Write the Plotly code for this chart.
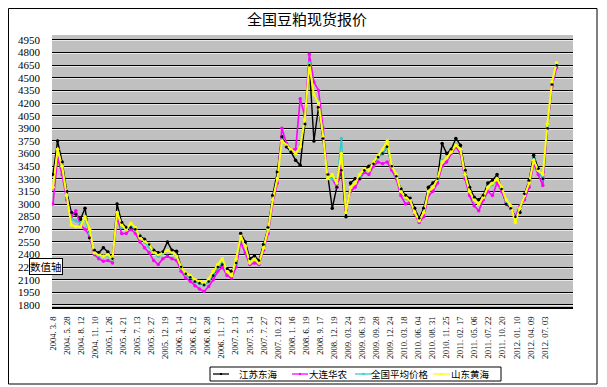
import plotly.graph_objects as go

# ---------------- data ----------------
x_labels = [
    "2004. 3. 8", "2004. 5. 28", "2004. 8. 12", "2004. 11. 10", "2005. 1. 26", "2005. 4. 21",
    "2005. 7. 13", "2005. 9. 27", "2005. 12. 19", "2006. 3. 14", "2006. 6. 12", "2006. 8. 28",
    "2006. 11. 17", "2007. 2. 13", "2007. 5. 14", "2007. 7. 27", "2007. 10. 23", "2008. 1. 16",
    "2008. 6. 19", "2008. 9. 17", "2008. 12. 19", "2009. 03. 24", "2009. 06. 19", "2009. 09. 28",
    "2009. 12. 24", "2010. 03. 18", "2010. 06. 04", "2010. 08. 31", "2010. 11. 25", "2011. 02. 17",
    "2011. 05. 06", "2011. 07. 22", "2011. 10. 20", "2012. 01. 10", "2012. 04. 09", "2012. 07. 03",
]

jiangsu = [3350, 3750, 3500, 3150, 2900, 2880, 2820, 2950, 2600, 2450,
           2420, 2480, 2430, 2350, 3000, 2780, 2720, 2720, 2700, 2620,
           2580, 2520, 2450, 2420, 2430, 2550, 2450, 2440, 2250, 2170,
           2130, 2080, 2060, 2040, 2080, 2150, 2250, 2280, 2230, 2200,
           2300, 2650, 2550, 2350, 2380, 2330, 2520, 2720, 3100, 3380,
           3800, 3680, 3620, 3520, 3460, 3950, 4650, 3750, 4150, 3780,
           3350, 2950, 3200, 3400, 2850, 3250, 3300, 3300, 3400, 3450,
           3480, 3560, 3600, 3680, 3450, 3330, 3180, 3100, 3070, 2950,
           2830, 2950, 3200, 3250, 3300, 3720, 3600, 3650, 3780, 3700,
           3400, 3200, 3080, 3050, 3100, 3250, 3280, 3350, 3180, 3000,
           2950, 2850, 2900, 3120, 3280, 3580, 3420, 3300, 3900, 4420,
           4650]

dalian = [3000, 3550, 3350, 3050, 2850, 2920, 2750, 2700, 2620, 2400,
          2350, 2320, 2330, 2300, 2850, 2650, 2650, 2700, 2650, 2550,
          2480, 2420, 2330, 2280, 2350, 2380, 2350, 2330, 2200, 2120,
          2080, 2030, 1990, 1960, 2020, 2100, 2200, 2250, 2150, 2120,
          2250, 2550, 2420, 2280, 2300, 2280, 2450, 2650, 3000, 3250,
          3900, 3720, 3650, 3650, 4250, 4050, 4780, 4450, 4350, 3900,
          3350, 3300, 3200, 3450, 2950, 3150, 3200, 3300, 3380, 3350,
          3450, 3500, 3480, 3500, 3400, 3300, 3100, 3000, 3020, 2880,
          2780, 2850, 3100, 3150, 3250, 3450, 3500, 3600, 3680, 3600,
          3300, 3100, 2980, 2920, 3050, 3150, 3100, 3250, 3150, 3020,
          2950, 2850, 2980, 3050, 3200, 3480, 3350, 3220, 3900, 4400,
          4620]

national = [3200, 3650, 3450, 3100, 2820, 2800, 2770, 2820, 2650, 2420,
            2390, 2380, 2390, 2340, 2900, 2720, 2700, 2740, 2700, 2600,
            2550, 2490, 2420, 2380, 2410, 2450, 2420, 2370, 2240, 2160,
            2130, 2080, 2060, 2040, 2080, 2160, 2250, 2300, 2200, 2160,
            2300, 2600, 2500, 2310, 2350, 2300, 2480, 2690, 3050, 3300,
            3760, 3700, 3640, 3600, 3700, 3990, 4680, 4300, 4220, 3820,
            3320, 3300, 3250, 3780, 2900, 3200, 3250, 3330, 3410, 3400,
            3490, 3560, 3600, 3680, 3440, 3330, 3150, 3070, 3050, 2910,
            2800, 2900, 3150, 3200, 3290, 3520, 3550, 3620, 3710, 3650,
            3350, 3150, 3040, 3000, 3080, 3200, 3230, 3300, 3190, 3030,
            2960, 2820, 2950, 3100, 3250, 3530, 3400, 3300, 3920, 4430,
            4660]

shandong = [3200, 3650, 3450, 3100, 2750, 2730, 2730, 2850, 2700, 2420,
            2400, 2380, 2400, 2350, 2900, 2750, 2700, 2770, 2720, 2600,
            2560, 2520, 2430, 2400, 2420, 2450, 2430, 2380, 2250, 2180,
            2150, 2100, 2080, 2060, 2110, 2200, 2280, 2350, 2200, 2150,
            2350, 2620, 2500, 2300, 2350, 2300, 2480, 2700, 3050, 3300,
            3750, 3700, 3650, 3600, 3680, 4000, 4650, 4300, 4200, 3800,
            3300, 3350, 3250, 3600, 2900, 3200, 3250, 3350, 3420, 3400,
            3500, 3580, 3650, 3750, 3450, 3350, 3150, 3080, 3050, 2900,
            2800, 2900, 3150, 3200, 3300, 3500, 3550, 3620, 3700, 3650,
            3350, 3150, 3050, 3000, 3080, 3200, 3250, 3300, 3200, 3050,
            2980, 2780, 2950, 3100, 3250, 3520, 3400, 3350, 3950, 4450,
            4680]

y_ticks = list(range(1800, 4951, 150))

series_names = ["江苏东海", "大连华农", "全国平均价格", "山东黄海"]
series_values = [jiangsu, dalian, national, shandong]
series_colors = ["#000000", "#ff00ff", "#33cccc", "#ffff00"]
series_widths = [1.4, 1.6, 1.4, 2.0]

SAMPLES_PER_LABEL = 3.07  # price samples between two consecutive date labels

# ---------------- layout geometry (page pixels) ----------------
BODY = 8                      # default page margin around the figure
W, H = 607 - BODY, 387 - BODY
PLOT_L, PLOT_R, PLOT_T, PLOT_B = 52, 573, 35, 307
ML = PLOT_L - BODY
MT = PLOT_T - BODY
MR = W - (PLOT_R - BODY)
MB = H - (PLOT_B - BODY)
PW = PLOT_R - PLOT_L
PH = PLOT_B - PLOT_T


def px(x):
    return (x - PLOT_L) / PW


def py(y):
    return (PLOT_B - y) / PH


Y_RANGE = [1776, 5009]
Y_SHIFT = (Y_RANGE[1] - Y_RANGE[0]) / PH  # one pixel in value units

xs = [i / SAMPLES_PER_LABEL for i in range(len(shandong))]

fig = go.Figure()
for name, vals, col, wid in zip(series_names, series_values, series_colors, series_widths):
    fig.add_trace(go.Scatter(
        x=xs, y=vals, name=name, mode="lines+markers",
        line=dict(color=col, width=wid),
        marker=dict(color=col, size=3.5),
        showlegend=False,
    ))
# black dots over the bundle, as in the picture
fig.add_trace(go.Scatter(
    x=xs, y=jiangsu, mode="markers", marker=dict(color="#000000", size=2.5),
    showlegend=False, hoverinfo="skip",
))
# empty trace to carry the embossed (light) grid axis
fig.add_trace(go.Scatter(x=[], y=[], yaxis="y2", showlegend=False))

cjk = "Noto Sans CJK SC"
serif = "Liberation Serif"

shapes = [
    # outer chart frame
    dict(type="rect", xref="paper", yref="paper", x0=px(BODY + 0.5), x1=px(597), y0=py(384),
         y1=py(BODY + 0.5), line=dict(color="#000000", width=1), fillcolor="rgba(0,0,0,0)",
         layer="below"),
    # legend box
    dict(type="rect", xref="paper", yref="paper", x0=px(210), x1=px(501), y0=py(381), y1=py(367),
         line=dict(color="#000000", width=1), fillcolor="#ffffff"),
]
annotations = [
    dict(text="数值轴", xref="paper", yref="paper", x=px(46), y=py(266), showarrow=False,
         xanchor="center", yanchor="middle",
         font=dict(family=cjk, size=10.5, color="#000000"), bgcolor="#ffffff",
         bordercolor="#000000", borderwidth=1, borderpad=0),
]
leg_line_x = [(213, 229), (292, 308), (355, 372), (433, 450)]
leg_text_x = [258, 328, 400, 470]
for (a, b), tx, name, col in zip(leg_line_x, leg_text_x, series_names, series_colors):
    shapes.append(dict(type="line", xref="paper", yref="paper", x0=px(a), x1=px(b),
                       y0=py(374), y1=py(374), line=dict(color=col, width=1.3)))
    shapes.append(dict(type="rect", xref="paper", yref="paper",
                       x0=px((a + b) / 2 - 1), x1=px((a + b) / 2 + 1),
                       y0=py(375), y1=py(373), line=dict(width=0), fillcolor=col))
    annotations.append(dict(text=name, xref="paper", yref="paper", x=px(tx), y=py(374),
                            xanchor="center", yanchor="middle", showarrow=False,
                            font=dict(family=cjk, size=9.5, color="#000000")))

fig.update_layout(
    width=W, height=H, autosize=False,
    margin=dict(l=ML, r=MR, t=MT, b=MB, pad=0),
    paper_bgcolor="#ffffff",
    plot_bgcolor="#c0c0c0",
    showlegend=False,
    title=dict(text="全国豆粕现货报价", x=(307 - BODY) / W, xref="container", xanchor="center",
               y=1 - (20 - BODY) / H, yref="container", yanchor="middle",
               font=dict(family=cjk, size=15, color="#000000")),
    xaxis=dict(
        range=[-0.07, 37.0], tickmode="array", tickvals=list(range(len(x_labels))),
        ticktext=x_labels, tickangle=-90, showgrid=False, zeroline=False, automargin=False,
        showline=True, linecolor="#000000", linewidth=2, ticks="",
        tickfont=dict(family=serif, size=8.5, color="#000000"), ticklabelstandoff=4,
    ),
    yaxis=dict(
        range=Y_RANGE, tickmode="array", tickvals=y_ticks, ticktext=[str(v) for v in y_ticks],
        showgrid=True, gridcolor="#000000", gridwidth=1, zeroline=False, ticks="",
        automargin=False,
        tickfont=dict(family=serif, size=11, color="#000000"), ticklabelstandoff=11,
    ),
    yaxis2=dict(
        overlaying="y", range=[Y_RANGE[0] + Y_SHIFT, Y_RANGE[1] + Y_SHIFT],
        tickmode="array", tickvals=y_ticks, showticklabels=False, automargin=False,
        showgrid=True, gridcolor="#e8e8e8", gridwidth=1, zeroline=False, ticks="",
    ),
    shapes=shapes,
    annotations=annotations,
)

fig.write_html("out.html")
